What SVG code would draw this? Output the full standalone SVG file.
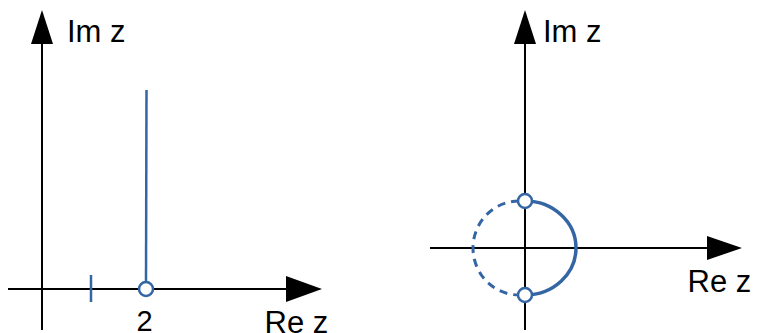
<svg xmlns="http://www.w3.org/2000/svg" width="758" height="333" viewBox="0 0 758 333">
<style>
.ax{stroke:#000;stroke-width:2;fill:none}
.ah{fill:#000;stroke:none}
.bl{stroke:#3465a4;fill:none}
.pt{stroke:#3465a4;stroke-width:2.5;fill:#fff}
text{font-family:"Liberation Sans",Arial,sans-serif;font-size:31px;fill:#000}
</style>
<rect width="758" height="333" fill="#fff"/>
<g id="left-axes">
<line class="ax" x1="42" y1="40" x2="42" y2="330"/>
<polygon class="ah" points="42,10 31,44 53,44"/>
<line class="ax" x1="8" y1="289" x2="290" y2="289"/>
<polygon class="ah" points="322,289 286,276 286,302"/>
<text x="67" y="41.5">Im z</text>
<text x="264.5" y="332.5">Re z</text>
</g>
<g id="left-curve">
<line class="bl" stroke-width="2.5" x1="91" y1="275" x2="91" y2="302"/>
<line class="bl" stroke-width="2.5" x1="146.5" y1="90" x2="146" y2="282"/>
<circle class="pt" cx="146" cy="289" r="7"/>
<text x="144.5" y="330.5" text-anchor="middle" style="font-size:29px">2</text>
</g>
<g id="right-axes">
<line class="ax" x1="525" y1="40" x2="525" y2="330"/>
<polygon class="ah" points="525,10 514,44 536,44"/>
<line class="ax" x1="430" y1="248" x2="710" y2="248"/>
<polygon class="ah" points="742,248 707,236 707,260"/>
<text x="543" y="41.5">Im z</text>
<text x="687.5" y="292.3">Re z</text>
</g>
<g id="right-curve">
<path class="bl" stroke-width="3" stroke-dasharray="8,6" d="M519,201 A46,47 0 0 0 519,295"/>
<path class="bl" stroke-width="3.5" d="M525,201 A51,47 0 0 1 525,295"/>
<circle class="pt" cx="525" cy="201" r="7"/>
<circle class="pt" cx="525" cy="295" r="7"/>
</g>
</svg>
